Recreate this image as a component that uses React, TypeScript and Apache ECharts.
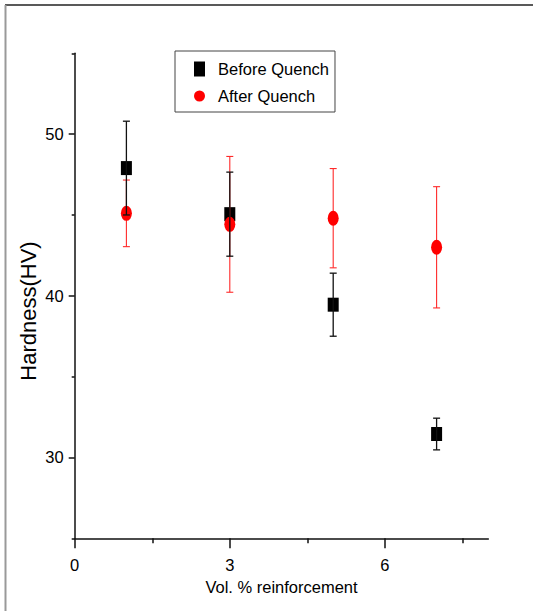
import React, { useEffect, useRef } from "react";
import * as echarts from "echarts";

const xValues = [1, 3, 5, 7];
const beforeMean = [47.9, 45.05, 39.45, 31.45];
const beforeErr = [2.9, 2.6, 1.95, 0.98];
const afterMean = [45.1, 44.42, 44.8, 43.0];
const afterErr = [2.06, 4.2, 3.07, 3.75];

const xMajorTicks = [0, 3, 6];
const xMinorTicks = [1.5, 4.5, 7.5];
const yMajorTicks = [30, 40, 50];
const yMinorTicks = [25, 35, 45, 55];

const FONT = "'Liberation Sans', Arial, sans-serif";
const FS = 16.5;
const ELLIPSE = "path://M0,10A10,10 0 1,1 20,10A10,10 0 1,1 0,10Z";

function errRender(color: string, lw: number) {
  return (params: any, api: any) => {
    const x = api.value(0);
    const lo = api.value(1);
    const hi = api.value(2);
    const p1 = api.coord([x, hi]);
    const p2 = api.coord([x, lo]);
    const w = 3.5;
    const style = { stroke: color, lineWidth: lw };
    return {
      type: "group",
      children: [
        { type: "line", shape: { x1: p1[0], y1: p1[1], x2: p2[0], y2: p2[1] }, style },
        { type: "line", shape: { x1: p1[0] - w, y1: p1[1], x2: p1[0] + w, y2: p1[1] }, style },
        { type: "line", shape: { x1: p2[0] - w, y1: p2[1], x2: p2[0] + w, y2: p2[1] }, style },
      ],
    };
  };
}

export default function App() {
  const ref = useRef<HTMLDivElement>(null);
  useEffect(() => {
    if (!ref.current) return;
    const chart = echarts.init(ref.current, null, { renderer: "svg" });
    const axisLine = { show: true, lineStyle: { color: "#111", width: 1.5 } };
    const grid = { left: 74.7, top: 53.3, width: 413.6, height: 485 };
    chart.setOption({
      animation: false,
      backgroundColor: "#fff",
      grid,
      legend: {
        orient: "vertical",
        left: 175,
        top: 51,
        padding: [8, 6, 6, 19],
        itemGap: 7,
        itemWidth: 11,
        itemHeight: 15,
        borderColor: "#444",
        borderWidth: 1,
        backgroundColor: "#fff",
        textStyle: { fontFamily: FONT, fontSize: FS, color: "#000", padding: [0, 0, 0, 8], lineHeight: 20 },
        data: [
          { name: "Before Quench", icon: "rect", itemStyle: { color: "#000", opacity: 1 } },
          { name: "After Quench", icon: ELLIPSE, itemStyle: { color: "#ff0000", opacity: 1 } },
        ],
      },
      graphic: [
        { type: "line", shape: { x1: 5, y1: 5, x2: 533, y2: 5 }, style: { stroke: "#222", lineWidth: 1.5 } },
        { type: "line", shape: { x1: 5.5, y1: 5, x2: 5.5, y2: 611 }, style: { stroke: "#999", lineWidth: 2 } },
        {
          type: "text",
          x: 28,
          y: 311,
          rotation: Math.PI / 2,
          style: {
            text: "Hardness(HV)",
            fontFamily: FONT,
            fontSize: 22,
            fill: "#000",
            align: "center",
            verticalAlign: "middle",
          },
        },
      ],
      xAxis: [
        {
          type: "value",
          min: 0,
          max: 8,
          position: "bottom",
          axisLine,
          splitLine: { show: false },
          axisTick: { show: true, customValues: xMajorTicks, length: 10, lineStyle: { color: "#111", width: 1.5 } },
          axisLabel: {
            customValues: xMajorTicks,
            margin: 18,
            fontFamily: FONT,
            fontSize: FS,
            color: "#000",
          },
          name: "Vol. % reinforcement",
          nameLocation: "middle",
          nameGap: 37,
          nameTextStyle: { fontFamily: FONT, fontSize: FS, color: "#000" },
        },
        {
          type: "value",
          min: 0,
          max: 8,
          position: "bottom",
          axisLine: { show: false },
          splitLine: { show: false },
          axisTick: { show: true, customValues: xMinorTicks, length: 5, lineStyle: { color: "#111", width: 1.5 } },
          axisLabel: { show: false },
        },
      ],
      yAxis: [
        {
          type: "value",
          min: 25,
          max: 55,
          position: "left",
          axisLine,
          splitLine: { show: false },
          axisTick: { show: true, customValues: yMajorTicks, length: 6, lineStyle: { color: "#111", width: 1.5 } },
          axisLabel: {
            customValues: yMajorTicks,
            margin: 11,
            fontFamily: FONT,
            fontSize: FS,
            color: "#000",
          },
        },
        {
          type: "value",
          min: 25,
          max: 55,
          position: "left",
          axisLine: { show: false },
          splitLine: { show: false },
          axisTick: { show: true, customValues: yMinorTicks, length: 3, lineStyle: { color: "#111", width: 1.5 } },
          axisLabel: { show: false },
        },
      ],
      series: [
        {
          name: "Before Quench",
          type: "scatter",
          symbol: "rect",
          symbolSize: [11, 14],
          itemStyle: { color: "#000", opacity: 1 },
          z: 2,
          data: xValues.map((x, i) => [x, beforeMean[i]]),
        },
        {
          name: "After Quench err",
          type: "custom",
          z: 3,
          renderItem: errRender("#ff2a2a", 1.1),
          encode: { x: 0, y: [1, 2] },
          data: xValues.map((x, i) => [x, afterMean[i] - afterErr[i], afterMean[i] + afterErr[i]]),
        },
        {
          name: "After Quench",
          type: "scatter",
          symbol: ELLIPSE,
          symbolSize: [11, 15],
          itemStyle: { color: "#ff0000", opacity: 1 },
          z: 4,
          data: xValues.map((x, i) => [x, afterMean[i]]),
        },
        {
          name: "Before Quench err",
          type: "custom",
          z: 5,
          renderItem: errRender("#111", 1.3),
          encode: { x: 0, y: [1, 2] },
          data: xValues.map((x, i) => [x, beforeMean[i] - beforeErr[i], beforeMean[i] + beforeErr[i]]),
        },
      ],
    });
    return () => chart.dispose();
  }, []);
  return <div ref={ref} style={{ position: "absolute", left: 0, top: 0, width: 533, height: 611 }} />;
}
